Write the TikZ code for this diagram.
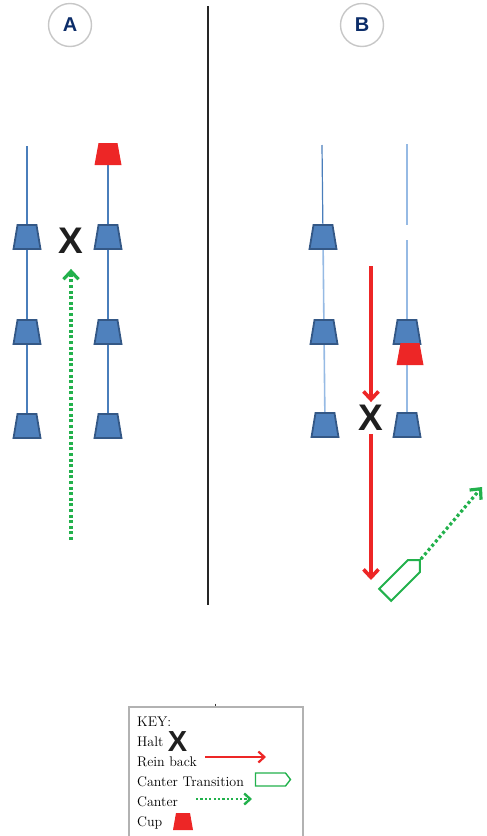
\documentclass[tikz,border=0pt]{standalone}
\usepackage{fontspec}
\setsansfont{Liberation Sans}
\usetikzlibrary{arrows.meta,shapes.geometric,shapes.symbols}

\definecolor{coneblue}{RGB}{79,129,189}
\definecolor{coneedge}{RGB}{52,88,134}
\definecolor{poleblue}{RGB}{74,126,187}
\definecolor{polelight}{RGB}{150,186,228}
\definecolor{cupred}{RGB}{237,38,38}
\definecolor{cantergreen}{RGB}{34,177,76}
\definecolor{labelnavy}{RGB}{12,45,105}

\begin{document}
\begin{tikzpicture}[x=1pt, y=-1pt,
  cone/.style={trapezium, trapezium stretches=true, trapezium angle=78, minimum width=27pt, minimum height=24pt, inner sep=1pt, fill=coneblue, draw=coneedge, line width=1.8pt},
  cup/.style={trapezium, trapezium stretches=true, trapezium angle=78, minimum width=27pt, minimum height=22pt, inner sep=1pt, fill=cupred},
  pole/.style={poleblue, line width=1.2pt},
  lightpole/.style={polelight, line width=1.6pt},
  halt/.style={font=\sffamily\bfseries\fontsize{37}{37}\selectfont, inner sep=3pt, text=black!88},
  badge/.style={circle, draw=black!22, line width=1.4pt, minimum size=43pt, inner sep=0pt, text=labelnavy, font=\sffamily\bfseries\fontsize{20}{20}\selectfont},
  rein/.style={cupred, line width=3.6pt, -{Straight Barb[length=8pt,width=15pt]}},
  canter/.style={cantergreen, line width=3.2pt, dash pattern=on 3pt off 2.6pt, -{Straight Barb[length=8pt,width=15pt]}},
  trans/.style={signal, signal to=east, draw=cantergreen, line width=2pt, inner sep=1pt},
  keytext/.style={anchor=base west, inner sep=0pt, font=\fontsize{14}{14}\selectfont}
]
\useasboundingbox (0,0) rectangle (487,836);

% headers and divider
\node[badge] (A) at (70,25) {A};
\node[badge] (B) at (362,25) {B};
\coordinate (divtop) at (208,6);
\coordinate (divbot) at (208,605);
\draw[black!85, line width=2.4pt] (divtop) -- (divbot);

% --- arena A ---
\coordinate (aL0) at (27,146);
\coordinate (aL1) at (27,237);
\coordinate (aL2) at (27,332);
\coordinate (aL3) at (27,426);
\coordinate (aR0) at (108,154);
\coordinate (aR1) at (108,237);
\coordinate (aR2) at (108,332);
\coordinate (aR3) at (108,426);
\draw[pole] (aL0) -- (aL3);
\draw[pole] (aR0) -- (aR3);
\foreach \c in {aL1,aL2,aL3,aR1,aR2,aR3}
  \node[cone] (\c cone) at (\c) {};
\node[cup] (acup) at (aR0) {};

\node[halt] (XA) at (71,241) {X};
\coordinate (caStart) at (71,540);
\draw[canter] (caStart) -- (XA) [shorten >=12pt];

% --- arena B ---
\coordinate (bL0) at (322,145);
\coordinate (bL1) at (323,237);
\coordinate (bL2) at (324,332);
\coordinate (bL3) at (325,425);
\coordinate (bR0) at (407,144);
\coordinate (bRgap) at (407,225);
\coordinate (bRgap2) at (407,240);
\coordinate (bR2) at (407,332);
\coordinate (bR3) at (407,425);
\draw[pole] (bL0) -- (bL1);
\draw[lightpole] (bL1) -- (bL2) -- (bL3);
\draw[lightpole] (bR0) -- (bRgap);
\draw[lightpole] (bRgap2) -- (bR3);
\foreach \c in {bL1,bL2,bL3,bR2,bR3}
  \node[cone] (\c cone) at (\c) {};
\node[cup] (bcup) at (410,354) {};

\node[halt] (XB) at (371,418) {X};
\coordinate (rbStart) at (371,266);
\coordinate (rbEnd) at (371,580);
\draw[rein] (rbStart) -- (XB);
\draw[rein] (XB) -- (rbEnd);

\node[trans, rotate=45, minimum width=49pt, minimum height=17pt] (tb) at (399.5,580.5) {};
\coordinate (cbEnd) at (482,487);
\draw[canter] (tb.east) -- (cbEnd);

% --- key ---
\draw[black!30, line width=1.1pt] (129,836) |- (303,707) -- (303,836);
\draw[black!80, line width=0.8pt] (215,703.5) -- (215,706);
\node[keytext] (kKey) at (137,726.7) {KEY:};
\node[keytext] (kHalt) at (137,746.7) {Halt};
\node[halt, font=\sffamily\bfseries\fontsize{29}{29}\selectfont] (kX) at (177.5,741.5) {X};
\node[keytext] (kRein) at (137,766.7) {Rein back};
\coordinate (kReinA) at (205,757);
\coordinate (kReinB) at (266,757);
\draw[cupred, line width=2.2pt, -{Straight Barb[length=6pt,width=11pt]}] (kReinA) -- (kReinB);
\node[keytext] (kTrans) at (137,786.7) {Canter Transition};
\node[trans, signal pointer angle=105, line width=1.4pt, minimum width=35pt, minimum height=13pt] (kTb) at (270.5,779.5) {};
\node[keytext] (kCanter) at (137,806.7) {Canter};
\coordinate (kCanA) at (196,799);
\coordinate (kCanB) at (252,799);
\draw[cantergreen, line width=2.4pt, dash pattern=on 2.2pt off 2.2pt, -{Straight Barb[length=6pt,width=11pt]}] (kCanA) -- (kCanB);
\node[keytext] (kCup) at (137,826.7) {Cup};
\node[cup, minimum width=20pt, minimum height=17pt] (kCupIcon) at (183,821.5) {};
\end{tikzpicture}
\end{document}
